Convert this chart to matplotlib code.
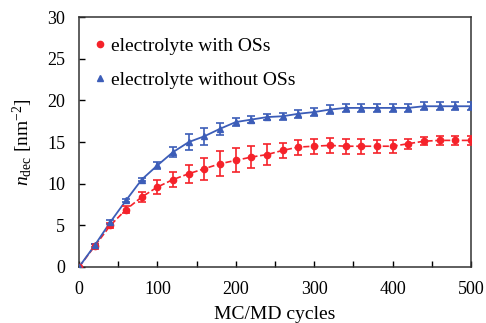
import matplotlib
matplotlib.use("Agg")
import matplotlib.pyplot as plt
from matplotlib.lines import Line2D

plt.rcParams['font.family'] = ['Liberation Serif', 'DejaVu Serif']
plt.rcParams['mathtext.fontset'] = 'custom'
plt.rcParams['mathtext.rm'] = 'Liberation Serif'
plt.rcParams['mathtext.it'] = 'Liberation Serif:italic'

cycles = [0, 20, 40, 60, 80, 100, 120, 140, 160, 180, 200, 220, 240, 260, 280,
          300, 320, 340, 360, 380, 400, 420, 440, 460, 480, 500]
with_os = [0.0, 2.5, 5.0, 6.9, 8.4, 9.6, 10.5, 11.2, 11.8, 12.4, 12.8, 13.2, 13.5,
           14.0, 14.4, 14.5, 14.6, 14.5, 14.5, 14.5, 14.5, 14.8, 15.1, 15.2, 15.2, 15.2]
with_os_err = [0.0, 0.3, 0.3, 0.4, 0.6, 0.8, 0.9, 1.1, 1.3, 1.5, 1.45, 1.3, 1.3,
               0.9, 0.9, 0.9, 0.9, 0.9, 0.9, 0.8, 0.8, 0.6, 0.5, 0.5, 0.5, 0.5]
without_os = [0.0, 2.6, 5.4, 8.0, 10.5, 12.2, 13.8, 15.0, 15.7, 16.6, 17.4, 17.7, 18.0,
              18.1, 18.4, 18.6, 18.9, 19.1, 19.1, 19.1, 19.1, 19.1, 19.3, 19.3, 19.3, 19.3]
without_os_err = [0.0, 0.2, 0.2, 0.2, 0.2, 0.4, 0.6, 1.0, 1.0, 0.7, 0.5, 0.4, 0.4,
                  0.4, 0.5, 0.5, 0.5, 0.5, 0.5, 0.5, 0.5, 0.5, 0.5, 0.5, 0.5, 0.5]
labels = ['electrolyte with OSs', 'electrolyte without OSs']

red = '#F5222A'
blue = '#3C5DB8'

fig = plt.figure(figsize=(4.86, 3.23), dpi=100)
ax = fig.add_axes([0.1626, 0.1734, 0.969 - 0.1626, 0.947 - 0.1734])

ax.plot(cycles, with_os, '--', color=red, lw=1.2, zorder=2)
ax.errorbar(cycles, with_os, yerr=with_os_err, fmt='o', color=red, ms=4.5,
            capsize=3, elinewidth=1.2, capthick=1.2, zorder=3)
ax.plot(cycles, without_os, '-', color=blue, lw=1.3, zorder=2)
ax.errorbar(cycles, without_os, yerr=without_os_err, fmt='^', color=blue, ms=4.5,
            capsize=3, elinewidth=1.2, capthick=1.2, zorder=3)

ax.set_xlim(0, 500)
ax.set_ylim(0, 30)
ax.set_xticks([0, 100, 200, 300, 400, 500])
ax.set_xticks([50, 150, 250, 350, 450], minor=True)
ax.set_yticks([0, 5, 10, 15, 20, 25, 30])
ax.tick_params(which='both', direction='in', length=4, width=1, labelsize=13, pad=10)
for s in ax.spines.values():
    s.set_linewidth(1.1)
    s.set_color('#333333')

ax.set_xlabel('MC/MD cycles', fontsize=14, labelpad=6)
ax.set_ylabel(r'$n_{\rm dec}$ [nm$^{-2}$]', fontsize=14, labelpad=9)

h = [Line2D([], [], marker='o', ls='', color=red, ms=4.5),
     Line2D([], [], marker='^', ls='', color=blue, ms=4.5)]
ax.legend(h, labels, loc='upper left', frameon=False, fontsize=14,
          handlelength=0.6, handletextpad=0.3, labelspacing=0.85,
          bbox_to_anchor=(0.003, 0.975), borderaxespad=0.3)

fig.savefig('out.png', dpi=100)
